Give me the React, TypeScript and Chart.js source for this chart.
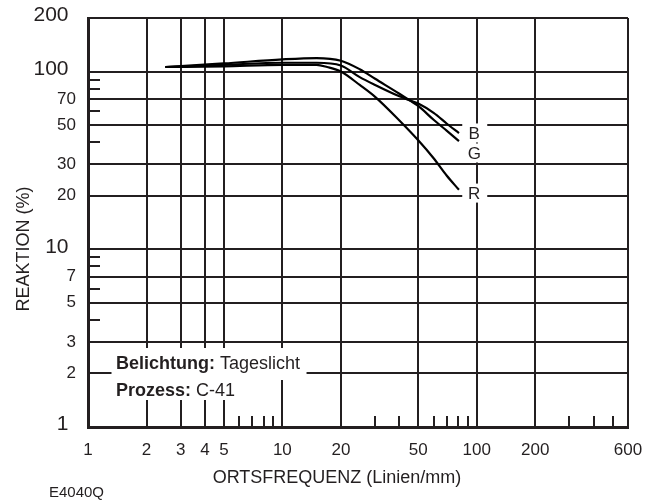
import React, { useEffect, useRef } from "react";
import { Chart, registerables } from "chart.js";

Chart.register(...registerables);

// ---- data ----
const xTickValues = [1, 2, 3, 4, 5, 10, 20, 50, 100, 200, 600];
const yTickValues = [1, 2, 3, 5, 7, 10, 20, 30, 50, 70, 100, 200];
const yBigLabels = [1, 10, 100, 200];
const xMinorTicks = [6, 7, 8, 9, 30, 40, 60, 70, 80, 90, 300, 400, 500];
const yMinorTicks = [4, 6, 8, 9, 40, 60, 80, 90];

const freqB = [2.5, 5, 10, 15, 20, 25, 30, 40, 45, 50, 60, 70, 81];
const respB = [106, 109, 112, 112, 108, 93, 84, 72.5, 69, 66, 58.5, 51, 45];

const freqG = [2.5, 5, 10, 15, 20, 25, 30, 40, 45, 50, 60, 70, 81];
const respG = [106, 111, 117, 119, 115, 103, 91, 75, 69, 64, 53.5, 46.5, 40.6];

const freqR = [2.5, 5, 10, 15, 17, 20, 25, 30, 40, 50, 60, 70, 81];
const respR = [106, 107, 109, 109, 106, 100, 84, 72, 53, 41, 32.5, 26, 21.6];

const seriesLabels = ["B", "G", "R"];
const seriesLabelY = [45.1, 34.8, 20.7];

const INK = "#231f20";
const FONT = '"Liberation Sans", Arial, sans-serif';

const toPoints = (xs: number[], ys: number[]) => xs.map((v, i) => ({ x: v, y: ys[i] }));

const overlayPlugin = {
  id: "overlay",
  beforeDatasetsDraw(chart: any) {
    const { ctx, chartArea, scales } = chart;
    const { left, bottom } = chartArea;
    const x = scales.x;
    const y = scales.y;
    ctx.save();

    // white boxes behind the annotation text
    const tx = left + 28;
    ctx.font = `bold 18px ${FONT}`;
    const w1a = ctx.measureText("Belichtung:").width;
    const w2a = ctx.measureText("Prozess:").width;
    ctx.font = `18px ${FONT}`;
    const w1b = ctx.measureText(" Tageslicht").width;
    const w2b = ctx.measureText(" C-41").width;
    ctx.fillStyle = "#ffffff";
    ctx.fillRect(tx - 4.5, 348, w1a + w1b + 11, 32);
    ctx.fillRect(tx - 4.5, 380, w2a + w2b + 13, 20);

    // white boxes behind series labels
    const lx = x.getPixelForValue(100) - 2.5;
    seriesLabelY.forEach((v) => {
      const py = y.getPixelForValue(v);
      ctx.fillRect(lx - 12, py - 9.5, 25, 19);
    });

    // minor ticks
    ctx.strokeStyle = INK;
    ctx.lineWidth = 2;
    xMinorTicks.forEach((v) => {
      const px = Math.round(x.getPixelForValue(v));
      ctx.beginPath();
      ctx.moveTo(px, bottom);
      ctx.lineTo(px, bottom - 11);
      ctx.stroke();
    });
    yMinorTicks.forEach((v) => {
      const py = Math.round(y.getPixelForValue(v));
      ctx.beginPath();
      ctx.moveTo(left, py);
      ctx.lineTo(left + 12, py);
      ctx.stroke();
    });

    // annotation text
    ctx.fillStyle = INK;
    ctx.textAlign = "left";
    ctx.textBaseline = "alphabetic";
    ctx.font = `bold 18px ${FONT}`;
    ctx.fillText("Belichtung:", tx, 368.5);
    ctx.fillText("Prozess:", tx, 396);
    ctx.font = `18px ${FONT}`;
    ctx.fillText(" Tageslicht", tx + w1a, 368.5);
    ctx.fillText(" C-41", tx + w2a, 396);

    // series labels
    ctx.font = `17px ${FONT}`;
    ctx.textAlign = "center";
    ctx.textBaseline = "middle";
    seriesLabels.forEach((t, i) => {
      ctx.fillText(t, lx, y.getPixelForValue(seriesLabelY[i]) + 1);
    });
    ctx.restore();
  },
  afterDraw(chart: any) {
    const { ctx, chartArea, scales } = chart;
    const { left } = chartArea;
    const y = scales.y;
    ctx.save();
    ctx.fillStyle = INK;
    ctx.textAlign = "right";
    ctx.textBaseline = "middle";
    yTickValues.forEach((v) => {
      const big = yBigLabels.includes(v);
      ctx.font = `${big ? 21 : 17}px ${FONT}`;
      ctx.fillText(String(v), left - (big ? 19.5 : 12), y.getPixelForValue(v) - (big ? 2.5 : 0));
    });

    // y title
    ctx.save();
    ctx.translate(24, 249);
    ctx.rotate(-Math.PI / 2);
    ctx.textAlign = "center";
    ctx.font = `18px ${FONT}`;
    ctx.fillText("REAKTION (%)", 0, 0);
    ctx.restore();

    // x title
    ctx.textAlign = "center";
    ctx.font = `18px ${FONT}`;
    ctx.fillText("ORTSFREQUENZ (Linien/mm)", 337, 478);

    // figure code
    ctx.textAlign = "left";
    ctx.font = `15px ${FONT}`;
    ctx.fillText("E4040Q", 49, 493);
    ctx.restore();
  },
};

export default function App() {
  const ref = useRef<HTMLCanvasElement | null>(null);

  useEffect(() => {
    if (!ref.current) return;
    const lineStyle = {
      borderColor: "#000000",
      borderWidth: 2.2,
      pointRadius: 0,
      cubicInterpolationMode: "monotone",
      fill: false,
    };
    const chart = new Chart(ref.current, {
      type: "line",
      data: {
        datasets: [
          { label: "B", data: toPoints(freqB, respB), ...lineStyle },
          { label: "G", data: toPoints(freqG, respG), ...lineStyle },
          { label: "R", data: toPoints(freqR, respR), ...lineStyle },
        ],
      },
      options: {
        animation: false,
        responsive: false,
        devicePixelRatio: 1,
        layout: { padding: { top: 18, right: 31, left: 0, bottom: 0 } },
        plugins: { legend: { display: false }, tooltip: { enabled: false } },
        scales: {
          x: {
            type: "logarithmic",
            min: 1,
            max: 600,
            afterBuildTicks: (s: any) => {
              s.ticks = xTickValues.map((v) => ({ value: v }));
            },
            afterFit: (s: any) => {
              s.height = 77;
            },
            grid: { color: INK, lineWidth: 2, drawTicks: false },
            border: { color: INK, width: 3 },
            ticks: {
              color: INK,
              font: { family: FONT, size: 17 },
              padding: 13,
              autoSkip: false,
              maxRotation: 0,
              callback: (v: any) => String(v),
            },
          },
          y: {
            type: "logarithmic",
            min: 1,
            max: 200,
            afterBuildTicks: (s: any) => {
              s.ticks = yTickValues.map((v) => ({ value: v }));
            },
            afterFit: (s: any) => {
              s.width = 88;
            },
            grid: { color: INK, lineWidth: 2, drawTicks: false },
            border: { color: INK, width: 3 },
            ticks: { display: false },
          },
        },
      },
      plugins: [overlayPlugin],
    } as any);
    return () => chart.destroy();
  }, []);

  return (
    <div style={{ position: "fixed", left: 0, top: 0, width: 659, height: 504, background: "#fff" }}>
      <canvas ref={ref} width={659} height={504} style={{ display: "block" }} />
    </div>
  );
}
